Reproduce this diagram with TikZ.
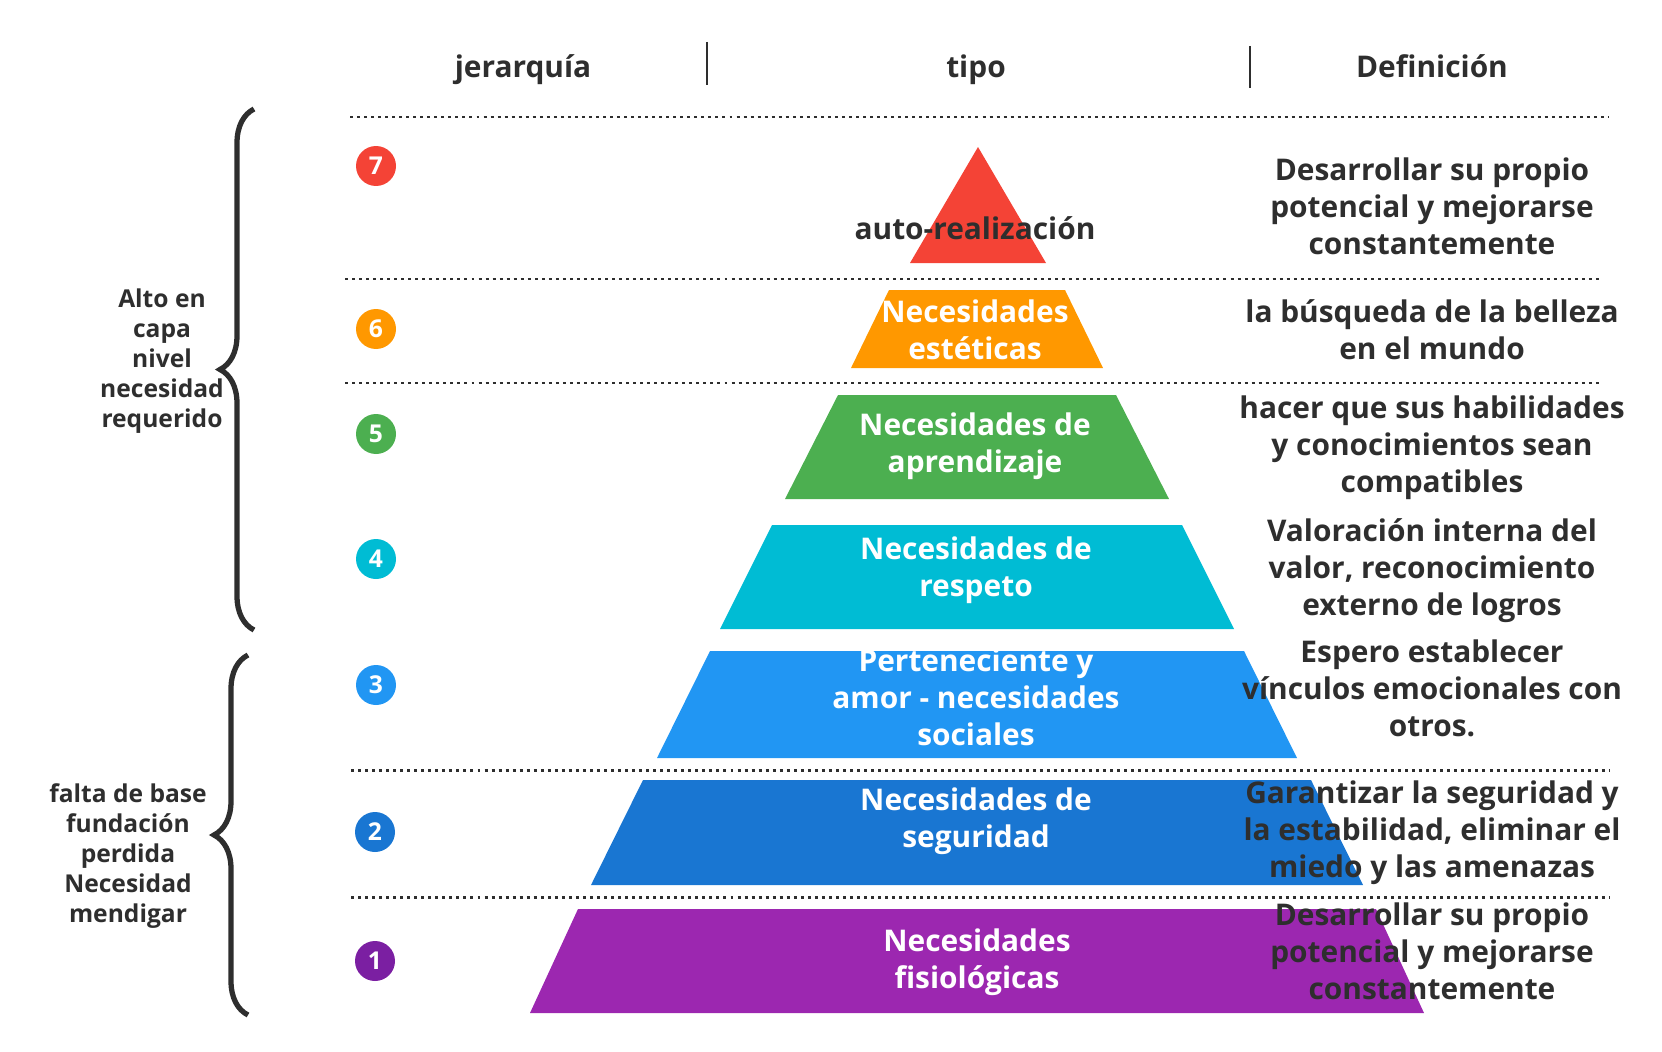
\documentclass[tikz,border=0pt]{standalone}
\usepackage{fontspec}
\setmainfont{Open Sans}
\usetikzlibrary{decorations.pathreplacing}
\definecolor{ink}{HTML}{2E2E2E}
\definecolor{lvlseven}{HTML}{F44336}
\definecolor{lvlsix}{HTML}{FF9800}
\definecolor{lvlfive}{HTML}{4CAF50}
\definecolor{lvlfour}{HTML}{00BCD4}
\definecolor{lvlthree}{HTML}{2196F3}
\definecolor{lvltwo}{HTML}{1976D2}
\definecolor{lvlone}{HTML}{9C27B0}
\definecolor{lvlonedark}{HTML}{7B1FA2}
\begin{document}
\begin{tikzpicture}[x=0.02cm, y=-0.02cm,
  every node/.style={font=\bfseries\fontsize{17}{21}\selectfont, text=ink, align=center, inner sep=0pt},
  layertext/.style={text=white},
  badge/.style={circle, minimum size=0.8cm, text=white, font=\bfseries\fontsize{14}{16}\selectfont},
  sidetext/.style={font=\bfseries\fontsize{14}{17}\selectfont},
  rule/.style={ink, line width=1.7pt, dash pattern=on 1.7pt off 2.3pt},
  bracket/.style={ink, line width=3pt, decorate, decoration={brace, amplitude=0.68cm}}]
\useasboundingbox (0,0) rectangle (1662,1051);
% column headers
\node[anchor=base] (hjer) at (523,78) {jerarquía};
\node[anchor=base] (htipo) at (976,78) {tipo};
\node[anchor=base] (hdef) at (1432,78) {Definición};
\draw[ink, line width=1.6pt] (707,42) -- (707,85);
\draw[ink, line width=1.6pt] (1250,46) -- (1250,88);
% dotted rules
\draw[rule] (350,117) -- (1609,117);
\draw[rule] (345,279) -- (1602,279);
\draw[rule] (345,383) -- (1602,383);
\draw[rule] (351,770) -- (1609,770);
\draw[rule] (351,897) -- (1609,897);
% pyramid
\fill[lvlseven] (978,147) -- (1046,263) -- (910,263) -- cycle;
\foreach \ty/\tw/\by/\bw/\col in {290/88/368/126/lvlsix, 395/139/499/192/lvlfive,
    525/205/629/257/lvlfour, 651/267/758/320/lvlthree, 780/334/885/386/lvltwo,
    909/399/1013/447/lvlone}
  \fill[\col] (977-\tw,\ty) -- (977+\tw,\ty) -- (977+\bw,\by) -- (977-\bw,\by) -- cycle;
\node (tself) at (975,228) {auto-realización};
\node[layertext] (taes) at (975,330) {Necesidades\\estéticas};
\node[layertext] (tlearn) at (975,446) {Necesidades de\\aprendizaje};
\node[layertext] (tresp) at (976,570) {Necesidades de\\respeto};
\node[layertext] (tsoc) at (976,697) {Perteneciente y\\amor - necesidades\\sociales};
\node[layertext] (tsafe) at (976,821) {Necesidades de\\seguridad};
\node[layertext] (tphys) at (977,962) {Necesidades\\fisiológicas};
% level badges
\node[badge, fill=lvlseven] (b7) at (376,166) {7};
\node[badge, fill=lvlsix] (b6) at (376,329) {6};
\node[badge, fill=lvlfive] (b5) at (376,434) {5};
\node[badge, fill=lvlfour] (b4) at (376,559) {4};
\node[badge, fill=lvlthree] (b3) at (376,685) {3};
\node[badge, fill=lvltwo] (b2) at (375,832) {2};
\node[badge, fill=lvlonedark] (b1) at (375,961) {1};
% definitions
\node (dself) at (1432,206) {Desarrollar su propio\\potencial y mejorarse\\constantemente};
\node (daes) at (1432,330) {la búsqueda de la belleza\\en el mundo};
\node (dlearn) at (1432,448) {hacer que sus habilidades\\y conocimientos sean\\compatibles};
\node (dresp) at (1432,571) {Valoración interna del\\valor, reconocimiento\\externo de logros};
\node (dsoc) at (1432,688) {Espero establecer\\vínculos emocionales con\\otros.};
\node (dsafe) at (1432,833) {Garantizar la seguridad y\\la estabilidad, eliminar el\\miedo y las amenazas};
\node (dphys) at (1432,951) {Desarrollar su propio\\potencial y mejorarse\\constantemente};
% side braces
\coordinate (hiTop) at (254,109);
\coordinate (hiBot) at (254,630);
\draw[bracket] (hiBot) -- (hiTop);
\node[sidetext] (hilabel) at (162,361) {Alto en\\capa\\nivel\\necesidad\\requerido};
\coordinate (loTop) at (248,655);
\coordinate (loBot) at (248,1015);
\draw[bracket] (loBot) -- (loTop);
\node[sidetext] (lolabel) at (128,856) {falta de base\\fundación\\perdida\\Necesidad\\mendigar};
\end{tikzpicture}
\end{document}
